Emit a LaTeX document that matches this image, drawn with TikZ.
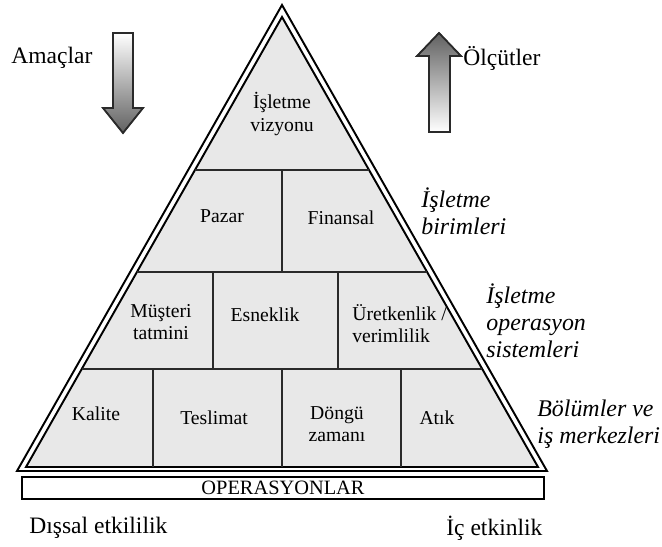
\documentclass[tikz,border=0pt]{standalone}
\usepackage{fontspec}
\setmainfont{Liberation Serif}
\definecolor{pyrfill}{HTML}{E8E8E8}
\definecolor{edgegray}{HTML}{2A2A2A}

\tikzset{
  cell/.style={font=\fontsize{11.2}{12.6}\selectfont, align=center, inner sep=0pt},
  sidelabel/.style={font=\fontsize{13.6}{15.3}\selectfont\itshape, align=left, anchor=west, inner sep=0pt},
  outlabel/.style={font=\fontsize{13.4}{15}\selectfont, anchor=west, inner sep=0pt},
  divider/.style={draw=edgegray, line width=0.8pt},
  pyredge/.style={draw=black, line width=1.1pt, line join=miter},
  bigarrow/.style={draw=edgegray, line width=0.9pt, line join=miter}
}

\begin{document}
\begin{tikzpicture}[x=0.02cm, y=-0.02cm]
  \useasboundingbox (0,0) rectangle (662,547);

  % pyramid, double edge
  \coordinate (apex) at (282,5);
  \coordinate (bl) at (17,471);
  \coordinate (br) at (547,471);
  \coordinate (iapex) at (282,17);
  \coordinate (ibl) at (26,467);
  \coordinate (ibr) at (538,467);
  \draw[pyredge, fill=white] (apex) -- (bl) -- (br) -- cycle;
  \draw[pyredge, fill=pyrfill] (iapex) -- (ibl) -- (ibr) -- cycle;

  % levels
  \foreach \yy in {170,272,369}
    \draw[divider] ({282-0.5689*(\yy-17)},\yy) -- ({282+0.5689*(\yy-17)},\yy);
  \draw[divider] (282,170) -- (282,272);
  \foreach \xx in {213,338} \draw[divider] (\xx,272) -- (\xx,369);
  \foreach \xx in {153,282,401} \draw[divider] (\xx,369) -- (\xx,467);

  % cells
  \node[cell] (vizyon) at (282,114) {İşletme\\vizyonu};
  \node[cell] (pazar) at (222,216) {Pazar};
  \node[cell] (finansal) at (341,218) {Finansal};
  \node[cell] (musteri) at (161,322) {Müşteri\\tatmini};
  \node[cell] (esneklik) at (265,315) {Esneklik};
  \node[cell, align=left, anchor=west] (uretkenlik) at (352,324) {Üretkenlik /\\verimlilik};
  \node[cell] (kalite) at (96,414) {Kalite};
  \node[cell] (teslimat) at (214,418) {Teslimat};
  \node[cell] (dongu) at (337,424) {Döngü\\zamanı};
  \node[cell] (atik) at (437,418) {Atık};

  % base bar
  \node[draw=black, line width=1.1pt, minimum width=10.44cm, minimum height=0.45cm,
        inner sep=0pt, font=\fontsize{11.6}{13}\selectfont] (ops) at (283,488) {OPERASYONLAR};

  % side labels
  \node[sidelabel] (birim) at (421,211) {İşletme\\birimleri};
  \node[sidelabel] (opsis) at (486,321) {İşletme\\operasyon\\sistemleri};
  \node[sidelabel] (bolum) at (537,424) {Bölümler ve\\iş merkezleri};

  % arrows
  \shade[bigarrow, top color=white, bottom color=black!62]
    (113,33) -- (133,33) -- (133,108) -- (143,108) -- (123,133) -- (103,108) -- (113,108) -- cycle;
  \draw[bigarrow] (113,33) -- (133,33) -- (133,108) -- (143,108) -- (123,133) -- (103,108) -- (113,108) -- cycle;
  \shade[bigarrow, top color=black!62, bottom color=white]
    (429,132) -- (450,132) -- (450,56) -- (461,56) -- (439,33) -- (417,56) -- (429,56) -- cycle;
  \draw[bigarrow] (429,132) -- (450,132) -- (450,56) -- (461,56) -- (439,33) -- (417,56) -- (429,56) -- cycle;
  \node[outlabel] (amac) at (11,58) {Amaçlar};
  \node[outlabel] (olcut) at (463,58) {Ölçütler};

  % bottom labels
  \node[outlabel] (dissal) at (29,528) {Dışsal etkililik};
  \node[outlabel] (ic) at (446,528) {İç etkinlik};
\end{tikzpicture}
\end{document}
